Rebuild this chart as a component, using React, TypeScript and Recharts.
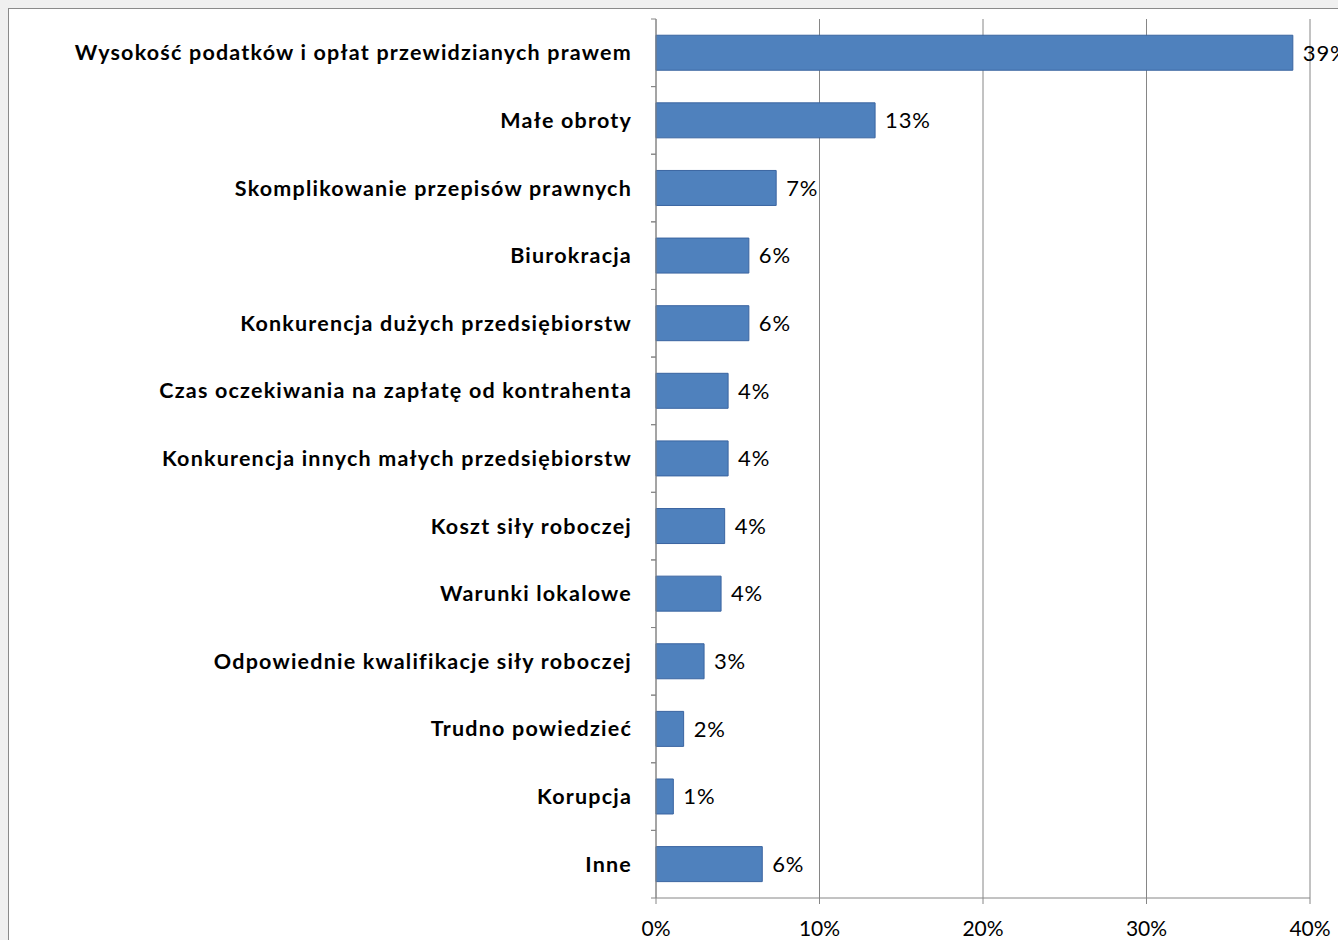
import React from "react";
import { BarChart, Bar, XAxis, YAxis, CartesianGrid, LabelList } from "recharts";

const categories = [
  "Wysokość podatków i opłat przewidzianych prawem",
  "Małe obroty",
  "Skomplikowanie przepisów prawnych",
  "Biurokracja",
  "Konkurencja dużych przedsiębiorstw",
  "Czas oczekiwania na zapłatę od kontrahenta",
  "Konkurencja innych małych przedsiębiorstw",
  "Koszt siły roboczej",
  "Warunki lokalowe",
  "Odpowiednie kwalifikacje siły roboczej",
  "Trudno powiedzieć",
  "Korupcja",
  "Inne",
];
const values = [38.95, 13.4, 7.35, 5.68, 5.68, 4.41, 4.41, 4.2, 3.98, 2.94, 1.69, 1.06, 6.5];
const valueLabels = ["39%", "13%", "7%", "6%", "6%", "4%", "4%", "4%", "4%", "3%", "2%", "1%", "6%"];
const xTicks = [0, 10, 20, 30, 40];

const data = categories.map((name, i) => ({ name, value: values[i], label: valueLabels[i] }));

const FONT = "Lato, 'Open Sans', sans-serif";
const AXIS = "#868686";

const YTick = (props: any) => {
  const { x, y, payload } = props;
  const half = payload && typeof payload.offset === "number" && payload.offset > 0 ? payload.offset : 33.8;
  return (
    <g>
      <line x1={x - 5} x2={x} y1={y - half} y2={y - half} stroke={AXIS} strokeWidth={1} />
      <line x1={x - 5} x2={x} y1={y + half} y2={y + half} stroke={AXIS} strokeWidth={1} />
      <text
        x={x - 24}
        y={y}
        dy="0.35em"
        textAnchor="end"
        fontFamily={FONT}
        fontWeight={700}
        fontSize={21.5}
        letterSpacing={1.2}
        fill="#000"
      >
        {payload.value}
      </text>
    </g>
  );
};

export default function App() {
  return (
    <div style={{ position: "absolute", left: 0, top: 0, width: 1338, height: 940, background: "#f0f0f0", overflow: "hidden" }}>
      <div style={{ position: "absolute", left: 8, top: 8, width: 1340, height: 940, border: "1px solid #8a8a8a", background: "#fff" }} />
      <div style={{ position: "absolute", left: 0, top: 0 }}>
        <BarChart
          width={1338}
          height={940}
          data={data}
          layout="vertical"
          margin={{ top: 19, right: 28, bottom: 0, left: 0 }}
          barCategoryGap="24%"
        >
          <CartesianGrid horizontal={false} vertical={true} stroke={AXIS} strokeWidth={1} />
          <XAxis
            type="number"
            domain={[0, 40]}
            ticks={xTicks}
            tickFormatter={(v: number) => `${v}%`}
            stroke={AXIS}
            tickSize={6}
            tickMargin={17}
            height={42}
            tick={{ fill: "#000", fontSize: 21, fontFamily: FONT }}
            interval={0}
          />
          <YAxis
            type="category"
            dataKey="name"
            width={656}
            stroke={AXIS}
            tickLine={false}
            tickSize={0}
            tickMargin={0}
            interval={0}
            tick={<YTick />}
          />
          <Bar dataKey="value" fill="#4f81bd" stroke="#3a64a0" strokeWidth={1} isAnimationActive={false}>
            <LabelList
              dataKey="label"
              position="right"
              offset={10}
              fill="#000"
              fontSize={22}
              letterSpacing={0.8}
              fontFamily={FONT}
            />
          </Bar>
        </BarChart>
      </div>
    </div>
  );
}
